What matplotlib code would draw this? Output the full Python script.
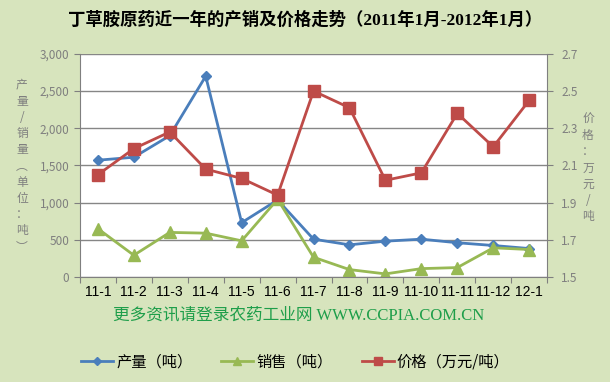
import matplotlib.pyplot as plt
import numpy as np

plt.rcParams['font.family'] = ['Noto Sans CJK SC', 'DejaVu Sans']

# 数据
months = ['11-1', '11-2', '11-3', '11-4', '11-5', '11-6', '11-7',
          '11-8', '11-9', '11-10', '11-11', '11-12', '12-1']
output = [1570, 1610, 1900, 2700, 730, 1035, 508, 432, 481, 508, 460, 423, 382]
sales = [649, 292, 599, 589, 486, 1045, 265, 99, 41, 112, 126, 392, 369]
price = [2.05, 2.19, 2.28, 2.08, 2.03, 1.94, 2.50, 2.41, 2.02, 2.06, 2.38, 2.20, 2.45]
left_ticks = [0, 500, 1000, 1500, 2000, 2500, 3000]
right_ticks = [1.5, 1.7, 1.9, 2.1, 2.3, 2.5, 2.7]

bg = '#D7E4BD'
grey = '#7F7F7F'
c_blue = '#4A7EBB'
c_green = '#98B954'
c_red = '#BE4B48'

fig = plt.figure(figsize=(6.1, 3.82), dpi=100, facecolor=bg)
ax = fig.add_axes([0.131, 0.275, 0.766, 0.584])
ax.set_facecolor('white')
ax2 = ax.twinx()

x = np.arange(len(months))
l1, = ax.plot(x, output, color=c_blue, lw=2, marker='D', ms=5, label='产量（吨）')
l2, = ax.plot(x, sales, color=c_green, lw=2, marker='^', ms=8, label='销售（吨）')
l3, = ax2.plot(x, price, color=c_red, lw=2, marker='s', ms=8, label='价格（万元/吨）')

ax.set_ylim(0, 3000)
ax.set_yticks(left_ticks)
ax.set_yticklabels(['{:,}'.format(v) for v in left_ticks])
ax2.set_ylim(1.5, 2.7)
ax2.set_yticks(right_ticks)
ax2.set_yticklabels(['{:g}'.format(v) for v in right_ticks])
ax.yaxis.grid(True, color='#868686', lw=1)
ax.set_axisbelow(True)

ax.set_xlim(-0.5, len(months) - 0.5)
ax.set_xticks(np.arange(len(months) + 1) - 0.5)
ax.set_xticklabels([])
ax.set_xticks(x, minor=True)
ax.set_xticklabels(months, minor=True, fontsize=10, color='black',
                   family=['Liberation Sans', 'DejaVu Sans'])
ax.tick_params(axis='x', which='minor', length=0, pad=6)
ax.tick_params(axis='x', which='major', length=4, color=grey, direction='out')

for a in (ax, ax2):
    for s in a.spines.values():
        s.set_visible(False)
    a.tick_params(axis='y', length=4, color=grey, labelcolor=grey, labelsize=8.5)
ax.spines['left'].set_visible(True)
ax.spines['left'].set_color(grey)
ax.spines['bottom'].set_visible(True)
ax.spines['bottom'].set_color(grey)
ax2.spines['right'].set_visible(True)
ax2.spines['right'].set_color(grey)
ax2.tick_params(axis='y', pad=6)

fig.text(0.5, 0.948, '丁草胺原药近一年的产销及价格走势（2011年1月-2012年1月）',
         ha='center', va='center', fontsize=12.5, fontweight='bold', color='black',
         family=['Liberation Serif', 'Noto Sans CJK SC'])

fig.text(0.036, 0.565, '\n'.join('产量/销量︵单位：吨︶'), ha='center', va='center',
         fontsize=8.5, color=grey, linespacing=1.32)
fig.text(0.964, 0.56, '\n'.join('价格：万元/吨'), ha='center', va='center',
         fontsize=8.5, color=grey, linespacing=1.32)

fig.text(0.49, 0.175, '更多资讯请登录农药工业网 WWW.CCPIA.COM.CN', ha='center', va='center',
         fontsize=12, color='#1E9E4A', family=['Liberation Serif', 'Noto Sans CJK SC'])

fig.legend(handles=[l1, l2, l3], loc='center', bbox_to_anchor=(0.484, 0.052), ncol=3,
           frameon=False, fontsize=11, handlelength=2.1, columnspacing=1.9,
           handletextpad=0.2, markerscale=0.8)

fig.savefig('out.png', dpi=100, facecolor=bg)
